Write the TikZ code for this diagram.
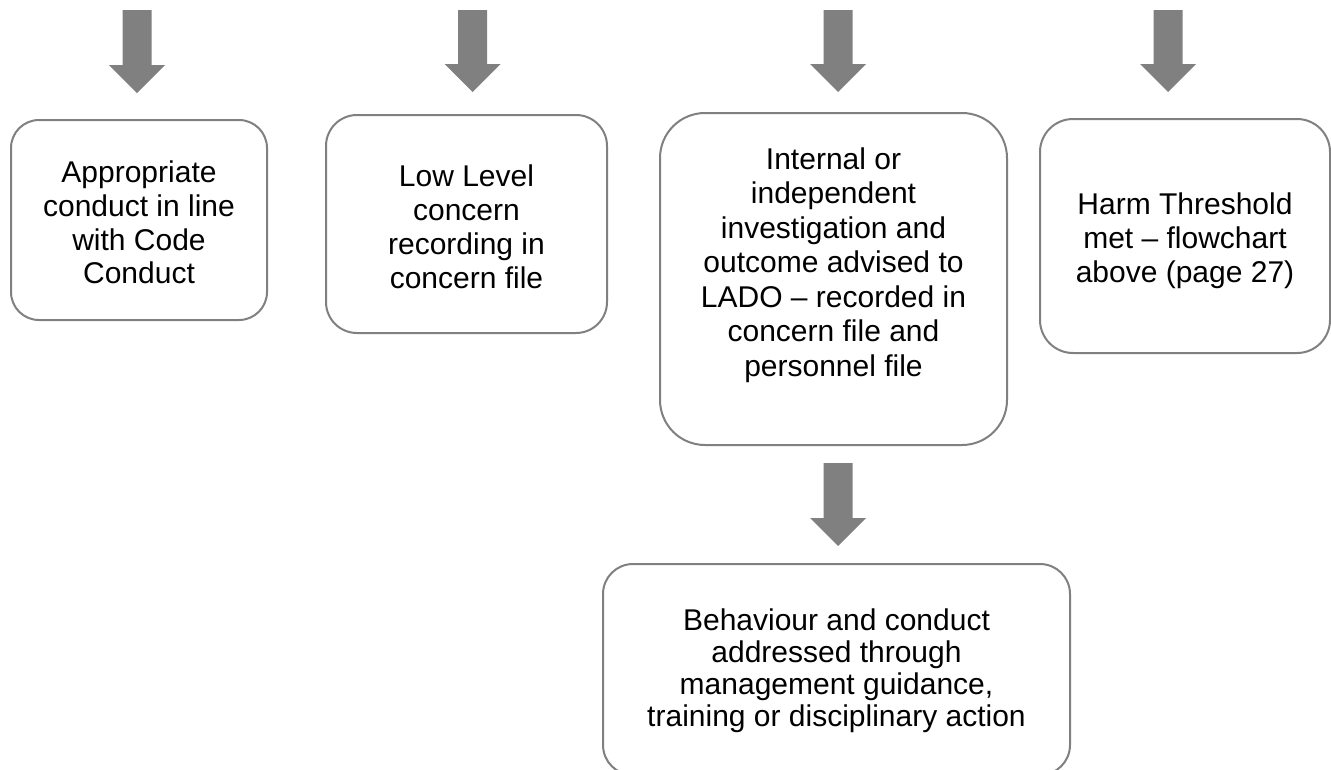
\documentclass[tikz,border=0pt]{standalone}
\usepackage{fontspec}
\setmainfont{Liberation Sans}
\usetikzlibrary{calc}
\definecolor{linegray}{RGB}{128,128,128}
\newcommand{\blockarrow}[2]{%
  \fill[arrowfill] ($(#1)+(-14.5,0)$) -- ($(#1)+(14.5,0)$) -- ($(#2)+(14.5,-28)$) -- ($(#2)+(28,-28)$) -- (#2) -- ($(#2)+(-28,-28)$) -- ($(#2)+(-14.5,-28)$) -- cycle;}
\begin{document}
\begin{tikzpicture}[x=1pt,y=-1pt,
  box/.style={draw=linegray, line width=2pt, fill=white, inner sep=0pt, rectangle},
  txt/.style={align=center, inner sep=0pt, text=black},
  arrowfill/.style={fill=linegray}]
\useasboundingbox (0,0) rectangle (1331,769);
\clip (0,0) rectangle (1331,769);

% boxes
\node[box, minimum width=256pt, minimum height=200pt, rounded corners=28pt] (b1) at (139,220) {};
\node[box, minimum width=281pt, minimum height=218pt, rounded corners=31pt] (b2) at (466.5,224) {};
\node[box, minimum width=347pt, minimum height=332pt, rounded corners=45pt] (b3) at (833.5,279) {};
\node[box, minimum width=290pt, minimum height=234pt, rounded corners=33pt] (b4) at (1185,236) {};
\node[box, minimum width=467pt, minimum height=211pt, rounded corners=30pt] (b5) at (836.5,669.5) {};

% texts
\node[txt, font=\fontsize{30}{33.7}\selectfont] (t1) at (139,222.5) {Appropriate\\conduct in line\\with Code\\Conduct};
\node[txt, font=\fontsize{30}{33.7}\selectfont] (t2) at (466.5,226.8) {Low Level\\concern\\recording in\\concern file};
\node[txt, font=\fontsize{30}{34.5}\selectfont] (t3) at (833.5,265) {Internal or\\independent\\investigation and\\outcome advised to\\LADO – recorded in\\concern file and\\personnel file};
\node[txt, font=\fontsize{30}{34}\selectfont] (t4) at (1185,240.4) {Harm Threshold\\met – flowchart\\above (page 27)};
\node[txt, font=\fontsize{30}{32}\selectfont] (t5) at (836.5,670.5) {Behaviour and conduct\\addressed through\\management guidance,\\training or disciplinary action};

% arrow coordinates
\coordinate (s1) at (137,10);   \coordinate (e1) at (137,93);
\coordinate (s2) at (472.5,10); \coordinate (e2) at (472.5,92);
\coordinate (s3) at (838,10);   \coordinate (e3) at (838,92);
\coordinate (s4) at (1168,10);  \coordinate (e4) at (1168,92);
\coordinate (s5) at (838,463);  \coordinate (e5) at (838,546);

\blockarrow{s1}{e1}
\blockarrow{s2}{e2}
\blockarrow{s3}{e3}
\blockarrow{s4}{e4}
\blockarrow{s5}{e5}
\end{tikzpicture}
\end{document}
